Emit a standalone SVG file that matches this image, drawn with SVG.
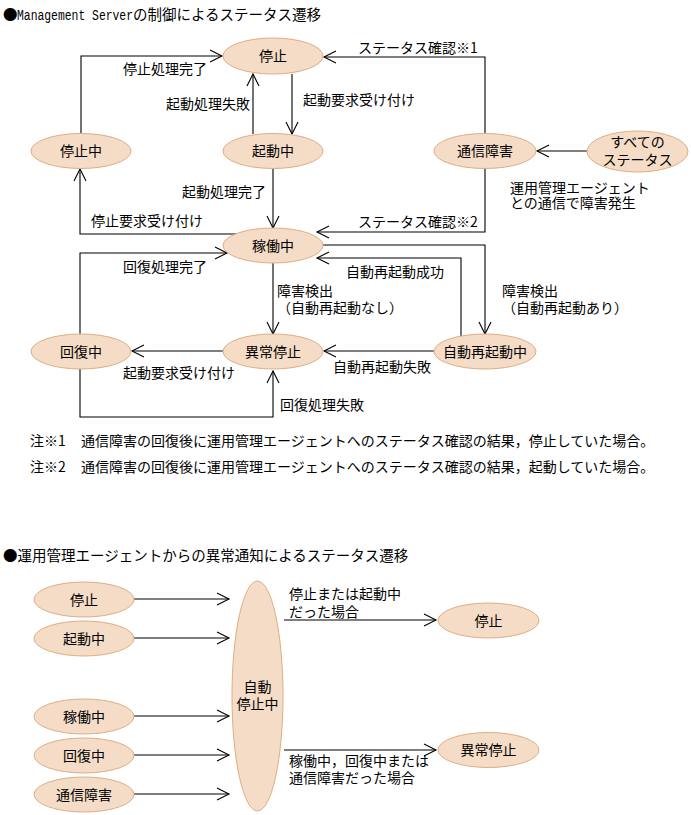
<svg xmlns="http://www.w3.org/2000/svg" width="691" height="815" viewBox="0 0 691 815">
<style>
text{font-family:"Noto Sans CJK JP","Noto Sans CJK SC",sans-serif;font-size:14px;fill:#000}
.t{font-size:14.5px}
.mono{font-family:"Liberation Mono",monospace;font-size:14px}
.n ellipse{fill:#F4DCC6;stroke:#DEAE85;stroke-width:1}
.n text{text-anchor:middle}
.c path{fill:none;stroke:#000;stroke-width:1.1}
</style>
<defs>
<marker id="a" markerUnits="userSpaceOnUse" markerWidth="16" markerHeight="16" refX="12" refY="6" orient="auto" overflow="visible">
<path d="M0,0 L12,6 L0,12" fill="none" stroke="#000" stroke-width="1.1"/>
</marker>
</defs>
<rect width="691" height="815" fill="#fff"/>

<g id="title1">
<text class="t" x="3" y="20">●</text>
<text class="mono" x="17" y="20" textLength="116" lengthAdjust="spacingAndGlyphs">Management Server</text>
<text class="t" x="133" y="20">の制御によるステータス遷移</text>
</g>

<g class="c" id="connectors1">
<path d="M81,133.5 V56 H222" marker-end="url(#a)"/>
<path d="M253,134 V74" marker-end="url(#a)"/>
<path d="M292,74 V134" marker-end="url(#a)"/>
<path d="M273,168.5 V228" marker-end="url(#a)"/>
<path d="M237,234 H80 V169" marker-end="url(#a)"/>
<path d="M485,133.5 V57 H324" marker-end="url(#a)"/>
<path d="M485,168.5 V232 H317" marker-end="url(#a)"/>
<path d="M323,245 H485 V334" marker-end="url(#a)"/>
<path d="M461,336 V258 H317" marker-end="url(#a)"/>
<path d="M273,263 V334" marker-end="url(#a)"/>
<path d="M434,351 H324" marker-end="url(#a)"/>
<path d="M223,351 H132" marker-end="url(#a)"/>
<path d="M80,334 V253 H227" marker-end="url(#a)"/>
<path d="M80,368.5 V417 H273 V371" marker-end="url(#a)"/>
<path d="M587,151 H537" marker-end="url(#a)"/>
</g>

<g id="labels1">
<text x="123" y="74">停止処理完了</text>
<text x="166" y="109">起動処理失敗</text>
<text x="303" y="105">起動要求受け付け</text>
<text x="182" y="197">起動処理完了</text>
<text x="91" y="226">停止要求受け付け</text>
<text x="358" y="53">ステータス確認※1</text>
<text x="358" y="227">ステータス確認※2</text>
<text x="510" y="193">運用管理エージェント</text>
<text x="510" y="208">との通信で障害発生</text>
<text x="123" y="272">回復処理完了</text>
<text x="277" y="296">障害検出</text>
<text x="277" y="313">（自動再起動なし）</text>
<text x="346" y="277">自動再起動成功</text>
<text x="502" y="296">障害検出</text>
<text x="502" y="313">（自動再起動あり）</text>
<text x="333" y="372">自動再起動失敗</text>
<text x="123" y="378">起動要求受け付け</text>
<text x="280" y="410">回復処理失敗</text>
</g>

<g id="n_stop" class="n"><ellipse cx="273" cy="56" rx="50" ry="18"/><text x="273" y="61">停止</text></g>
<g id="n_starting" class="n"><ellipse cx="273" cy="151" rx="50" ry="17.5"/><text x="273" y="156">起動中</text></g>
<g id="n_stopping" class="n"><ellipse cx="81" cy="151" rx="50" ry="17.5"/><text x="81" y="156">停止中</text></g>
<g id="n_running" class="n"><ellipse cx="273" cy="245.5" rx="50" ry="17.5"/><text x="273" y="250.5">稼働中</text></g>
<g id="n_comm" class="n"><ellipse cx="485" cy="151" rx="51" ry="17.5"/><text x="485" y="156">通信障害</text></g>
<g id="n_all" class="n"><ellipse cx="637.5" cy="151.5" rx="50.5" ry="20.5"/><text x="637.5" y="147">すべての</text><text x="637.5" y="164.5">ステータス</text></g>
<g id="n_abnormal" class="n"><ellipse cx="273" cy="351.5" rx="50" ry="17.5"/><text x="273" y="356.5">異常停止</text></g>
<g id="n_recovering" class="n"><ellipse cx="81" cy="351.5" rx="50" ry="17.5"/><text x="81" y="356.5">回復中</text></g>
<g id="n_autorestart" class="n"><ellipse cx="485" cy="351.5" rx="51" ry="17.5"/><text x="485" y="356.5">自動再起動中</text></g>

<g id="notes">
<text x="30" y="446">注※1<tspan x="81">通信障害の回復後に運用管理エージェントへのステータス確認の結果，停止していた場合。</tspan></text>
<text x="30" y="472">注※2<tspan x="81">通信障害の回復後に運用管理エージェントへのステータス確認の結果，起動していた場合。</tspan></text>
</g>

<text class="t" x="3" y="561">●運用管理エージェントからの異常通知によるステータス遷移</text>

<g class="c" id="connectors2">
<path d="M134,599 H229" marker-end="url(#a)"/>
<path d="M134,638 H229" marker-end="url(#a)"/>
<path d="M134,716 H229" marker-end="url(#a)"/>
<path d="M134,755 H229" marker-end="url(#a)"/>
<path d="M134,794 H229" marker-end="url(#a)"/>
<path d="M284,620 H436" marker-end="url(#a)"/>
<path d="M284,750 H436" marker-end="url(#a)"/>
</g>

<g id="labels2">
<text x="289" y="599">停止または起動中</text>
<text x="289" y="617">だった場合</text>
<text x="289" y="766">稼働中，回復中または</text>
<text x="289" y="783">通信障害だった場合</text>
</g>

<g id="m_stop" class="n"><ellipse cx="84" cy="599.5" rx="50" ry="17.5"/><text x="84" y="604.5">停止</text></g>
<g id="m_starting" class="n"><ellipse cx="84" cy="638.5" rx="50" ry="17.5"/><text x="84" y="643.5">起動中</text></g>
<g id="m_running" class="n"><ellipse cx="84" cy="716.5" rx="50" ry="17.5"/><text x="84" y="721.5">稼働中</text></g>
<g id="m_recovering" class="n"><ellipse cx="84" cy="755.5" rx="50" ry="17.5"/><text x="84" y="760.5">回復中</text></g>
<g id="m_comm" class="n"><ellipse cx="84" cy="794.5" rx="50" ry="17.5"/><text x="84" y="799.5">通信障害</text></g>
<g id="m_autostop" class="n"><ellipse cx="257.5" cy="696" rx="25.5" ry="115"/><text x="257.5" y="692">自動</text><text x="257.5" y="709">停止中</text></g>
<g id="m_stop2" class="n"><ellipse cx="488.5" cy="620.5" rx="50.5" ry="17.5"/><text x="488.5" y="625.5">停止</text></g>
<g id="m_abnormal" class="n"><ellipse cx="488.5" cy="750" rx="50.5" ry="17.5"/><text x="488.5" y="755">異常停止</text></g>
</svg>
